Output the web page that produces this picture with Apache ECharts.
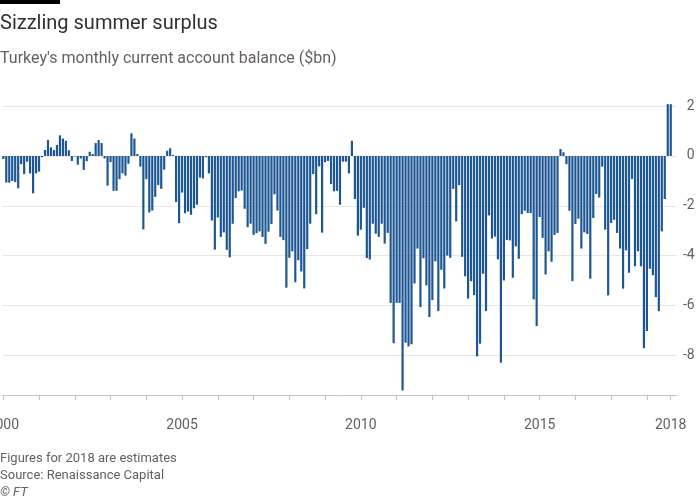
<!DOCTYPE html>
<html>
<head>
<meta charset="utf-8">
<script src="https://cdn.jsdelivr.net/npm/echarts@6/dist/echarts.min.js"></script>
<style>
html, body { margin: 0; padding: 0; background: #fff; }
#chart { width: 700px; height: 500px; }
</style>
</head>
<body>
<div id="chart"></div>
<script>
// Turkey monthly current account balance, $bn, Jan 2000 - Sep 2018
var balance = [
  -0.12, -1.07, -1.07, -1.0, -1.05, -1.3, -0.33, -0.73, -0.23, -0.7, -1.5, -0.7,
  -0.63, -0.05, 0.24, 0.64, 0.35, 0.24, 0.44, 0.83, 0.7, 0.61, 0.23, -0.2,
  -0.02, -0.35, -0.1, -0.56, -0.21, 0.17, 0.08, 0.52, 0.64, 0.52, -0.1, -1.19,
  -0.25, -1.4, -1.4, -0.93, -0.7, -0.79, -0.31, 0.91, 0.7, 0.08, -0.43, -2.95,
  -0.93, -2.27, -2.19, -1.64, -1.17, -1.32, -0.55, 0.21, 0.31, 0.04, -1.85, -2.7,
  -1.47, -2.3, -2.23, -2.36, -2.1, -1.96, -0.87, -0.9, -0.05, -0.7, -2.59, -3.76,
  -2.47, -3.25, -3.07, -3.77, -4.07, -2.72, -1.69, -1.42, -1.39, -2.12, -2.86, -2.72,
  -3.17, -3.1, -3.03, -3.25, -3.53, -3.04, -2.73, -1.54, -2.19, -3.25, -3.38, -5.29,
  -4.09, -3.83, -5.07, -4.19, -4.64, -5.32, -3.74, -2.72, -0.73, -2.34, -0.42, -3.08,
  -0.25, -0.2, -1.13, -1.42, -1.4, -1.96, -0.23, -0.23, -0.7, 0.61, -1.73, -3.2,
  -2.96, -2.08, -4.1, -4.16, -2.72, -3.12, -3.25, -2.72, -3.52, -3.09, -5.9, -7.52,
  -5.9, -5.9, -9.42, -7.5, -7.65, -7.56, -5.12, -3.72, -6.07, -4.11, -5.2, -6.47,
  -5.79, -4.23, -6.23, -4.57, -5.32, -4.0, -4.09, -1.32, -2.63, -1.17, -4.05, -4.83,
  -5.73, -5.03, -5.59, -8.05, -7.54, -4.73, -6.23, -2.39, -3.32, -3.24, -4.15, -8.3,
  -5.0, -3.37, -3.39, -4.89, -3.63, -4.13, -2.34, -2.2, -2.29, -2.29, -5.76, -6.83,
  -2.45, -3.29, -4.76, -3.83, -4.25, -3.17, -3.09, 0.28, 0.15, -0.33, -2.2, -5.03,
  -2.73, -2.52, -3.72, -3.07, -3.13, -4.93, -2.49, -1.53, -1.67, -0.43, -2.96, -5.6,
  -2.69, -2.56, -3.09, -3.72, -5.33, -3.79, -4.69, -0.93, -4.43, -3.83, -4.43, -7.72,
  -7.03, -4.53, -4.79, -5.67, -6.23, -3.03, -1.73, 2.08, 2.08
];
var tickMonths = ['2000-01', '2005-01', '2010-01', '2015-01', '2018-09'];
var tickLabels = ['2000', '2005', '2010', '2015', '2018'];
var yTicks = [2, 0, -2, -4, -6, -8];

// month names for each bar
var months = [];
for (var i = 0; i < balance.length; i++) {
  var y = 2000 + Math.floor(i / 12), m = i % 12 + 1;
  months.push(y + '-' + (m < 10 ? '0' + m : m));
}
var yearStarts = [];
months.forEach(function (mo, i) {
  if (mo.slice(5) == '01' || i == months.length - 1) yearStarts.push(i);
});
var labelIdx = tickMonths.map(function (mo) { return months.indexOf(mo); });

var grey = '#66605c';
var font = 'Roboto, "Liberation Sans", sans-serif';

var chart = echarts.init(document.getElementById('chart'));
var option = {
  backgroundColor: '#fff',
  animation: false,
  title: [
    { text: 'Sizzling summer surplus', left: 0, top: 12, padding: 0,
      textStyle: { fontFamily: font, fontSize: 20, fontWeight: 'normal', color: '#33302e', lineHeight: 24 } },
    { text: "Turkey's monthly current account balance ($bn)", left: 0, top: 50, padding: 0,
      textStyle: { fontFamily: font, fontSize: 16, fontWeight: 'normal', color: grey, lineHeight: 18 } },
    { text: 'Figures for 2018 are estimates', left: 0, top: 451, padding: 0,
      textStyle: { fontFamily: font, fontSize: 13, fontWeight: 'normal', color: grey, lineHeight: 16 } },
    { text: 'Source: Renaissance Capital', left: 0, top: 468, padding: 0,
      textStyle: { fontFamily: font, fontSize: 13, fontWeight: 'normal', color: grey, lineHeight: 16 } },
    { text: '© FT', left: 0, top: 485, padding: 0,
      textStyle: { fontFamily: font, fontSize: 13, fontWeight: 'normal', fontStyle: 'italic', color: grey, lineHeight: 16 } }
  ],
  graphic: [
    { type: 'rect', left: 0, top: 0, shape: { width: 60, height: 4 }, style: { fill: '#000' } }
  ],
  grid: { left: 2.7, right: 23.3, top: 101.2, height: 293.8, outerBoundsMode: 'none' },
  xAxis: {
    type: 'value',
    min: -0.2,
    max: 226,
    splitLine: { show: false },
    axisLine: { onZero: false, lineStyle: { color: '#ccc1b7', width: 1 } },
    axisTick: { show: true, customValues: yearStarts, length: 5, lineStyle: { color: '#ccc1b7' } },
    axisLabel: {
      customValues: labelIdx,
      margin: 23,
      color: grey,
      fontFamily: font,
      fontSize: 14,
      align: 'center',
      hideOverlap: false,
      alignMinLabel: 'center',
      alignMaxLabel: 'center',
      formatter: function (v) { return tickLabels[labelIdx.indexOf(Math.round(v))] || ''; }
    }
  },
  yAxis: {
    type: 'value',
    position: 'right',
    min: -9.6,
    max: 2.2,
    axisLine: { show: false },
    axisTick: { show: false, customValues: yTicks },
    splitLine: { show: true, lineStyle: { color: '#e9e5e1', width: 1 } },
    axisLabel: {
      customValues: yTicks,
      align: 'right',
      margin: 18,
      color: grey,
      fontFamily: font,
      fontSize: 14
    }
  },
  series: [{
    type: 'bar',
    data: balance.map(function (v, i) { return [i, v]; }),
    barWidth: 2.2,
    itemStyle: { color: '#1d5793' },
    silent: true
  }]
};
chart.setOption(option);
</script>
</body>
</html>
